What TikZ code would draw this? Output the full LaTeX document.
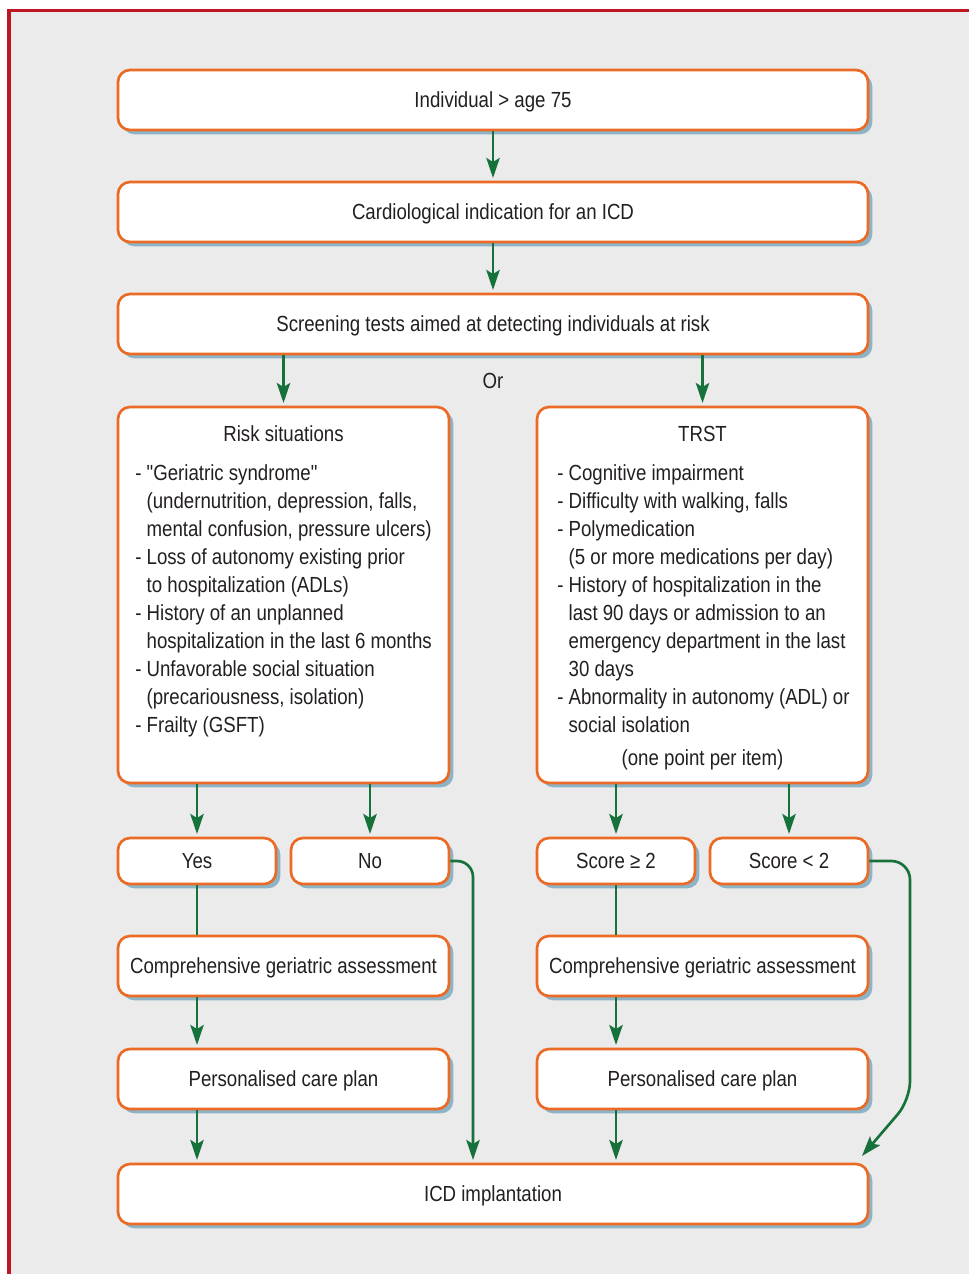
\documentclass[tikz,border=0pt]{standalone}
\usepackage{fontspec}
\setmainfont{Liberation Sans}[FakeStretch=0.853, Ligatures=TeXOff]
\usetikzlibrary{arrows.meta,shadows}
\definecolor{bgc}{HTML}{EBEBEB}
\definecolor{framec}{HTML}{BE1622}
\definecolor{boxc}{HTML}{EB6A25}
\definecolor{shadc}{HTML}{8CB3C6}
\definecolor{arrc}{HTML}{17713A}
\definecolor{txtc}{HTML}{231F20}
\newcommand{\cont}{\hphantom{-~}}
\tikzset{
  box/.style={draw=boxc, line width=2pt, fill=white, rounded corners=9pt,
    drop shadow={shadow xshift=3.2pt, shadow yshift=-3.2pt, fill=shadc, opacity=1},
    text=txtc, inner sep=0pt, align=center, text height=14pt, text depth=2.4pt},
  wide/.style={box, minimum width=562.5pt, minimum height=45pt},
  half/.style={box, minimum width=248.25pt, minimum height=45pt},
  small/.style={box, minimum width=118.5pt, minimum height=34.5pt},
  tall/.style={box, minimum width=248.25pt, minimum height=282pt},
  lbl/.style={text=txtc, inner sep=0pt},
  conn/.style={draw=arrc, line width=2pt},
  arr/.style={conn, -{Stealth[length=15pt, width=10pt, inset=3pt]}, shorten >=2pt},
}
\begin{document}
\begin{tikzpicture}[x=0.75pt, y=-0.75pt, font=\fontsize{16.4pt}{21pt}\selectfont]
\useasboundingbox (0,0) rectangle (968,1274);
\fill[white] (0,0) rectangle (968,1274);
\fill[bgc] (9,10.5) rectangle (975,1280);
\draw[framec, line width=2.3pt] (9,1290) -- (9,10.5) -- (980,10.5);

\node[wide] (b1) at (493,100) {Individual > age 75};
\node[wide] (b2) at (493,212) {Cardiological indication for an ICD};
\node[wide] (b3) at (493,324) {Screening tests aimed at detecting individuals at risk};
\node[lbl] (or) at (493,381) {Or};

\node[tall] (risk) at (283.5,595) {};
\node[lbl] (risktitle) at (283.5,433.5) {Risk situations};
\node[lbl, anchor=north west, align=left] (risklist) at (135,464) {%
- "Geriatric syndrome"\\
\cont(undernutrition, depression, falls,\\
\cont mental confusion, pressure ulcers)\\
- Loss of autonomy existing prior\\
\cont to hospitalization (ADLs)\\
- History of an unplanned\\
\cont hospitalization in the last 6 months\\
- Unfavorable social situation\\
\cont(precariousness, isolation)\\
- Frailty (GSFT)};

\node[tall] (trst) at (702.5,595) {};
\node[lbl] (trsttitle) at (702.5,433.5) {TRST};
\node[lbl, anchor=north west, align=left] (trstlist) at (557,464) {%
- Cognitive impairment\\
- Difficulty with walking, falls\\
- Polymedication\\
\cont(5 or more medications per day)\\
- History of hospitalization in the\\
\cont last 90 days or admission to an\\
\cont emergency department in the last\\
\cont 30 days\\
- Abnormality in autonomy (ADL) or\\
\cont social isolation};
\node[lbl] (trstfoot) at (702.5,759.5) {(one point per item)};

\node[small] (yes) at (197,861) {Yes};
\node[small] (no) at (370,861) {No};
\node[small] (s1) at (616,861) {Score ≥ 2};
\node[small] (s2) at (789,861) {Score < 2};

\node[half] (cgal) at (283.5,966) {Comprehensive geriatric assessment};
\node[half] (cgar) at (702.5,966) {Comprehensive geriatric assessment};
\node[half] (pcpl) at (283.5,1079) {Personalised care plan};
\node[half] (pcpr) at (702.5,1079) {Personalised care plan};

\node[wide] (icd) at (493,1194) {ICD implantation};

\coordinate (nx) at (473,0);
\coordinate (sbend) at (910,1100);
\coordinate (stip) at (862,1156);

\draw[arr] (b1) -- (b2);
\draw[arr] (b2) -- (b3);
\draw[arr] (b3.south -| risk.north) -- (risk.north);
\draw[arr] (b3.south -| trst.north) -- (trst.north);
\draw[arr] (risk.south -| yes.north) -- (yes.north);
\draw[arr] (risk.south -| no.north) -- (no.north);
\draw[arr] (trst.south -| s1.north) -- (s1.north);
\draw[arr] (trst.south -| s2.north) -- (s2.north);
\draw[conn] (yes.south) -- (yes.south |- cgal.north);
\draw[conn] (s1.south) -- (s1.south |- cgar.north);
\draw[arr] (cgal.south -| yes.south) -- (pcpl.north -| yes.south);
\draw[arr] (cgar.south -| s1.south) -- (pcpr.north -| s1.south);
\draw[arr] (pcpl.south -| yes.south) -- (icd.north -| yes.south);
\draw[arr] (pcpr.south -| s1.south) -- (icd.north -| s1.south);
\draw[arr, rounded corners=12pt] (no.east) -| (icd.north -| nx);
\draw[arr, rounded corners=14pt, shorten >=0pt] (s2.east) -| (sbend) -- (stip);
\end{tikzpicture}
\end{document}
